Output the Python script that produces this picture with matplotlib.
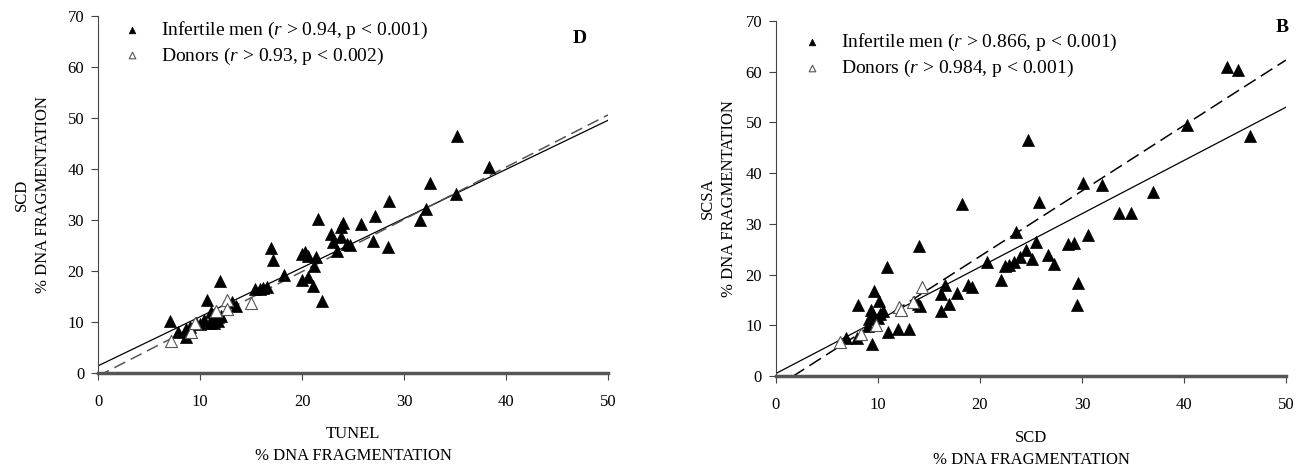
import matplotlib
matplotlib.use('Agg')
import matplotlib.pyplot as plt
import numpy as np

plt.rcParams['font.family'] = ['Liberation Serif', 'DejaVu Serif']
plt.rcParams['mathtext.fontset'] = 'custom'
plt.rcParams['mathtext.it'] = 'Liberation Serif:italic'
plt.rcParams['mathtext.rm'] = 'Liberation Serif'

# Panel D: TUNEL vs SCD
d_inf_x = [35.2, 38.3, 32.5, 35.1, 32.2, 31.6, 28.5, 28.4, 27.2, 27.0, 25.8, 21.6, 24.0, 23.8,
           22.8, 23.0, 23.8, 23.4, 24.4, 24.7, 21.4, 21.2, 20.3, 20.0, 20.6, 20.6, 20.0, 21.1,
           22.0, 17.0, 17.2, 18.2, 15.4, 15.9, 16.2, 16.6, 12.0, 10.7, 11.1, 13.1, 13.5, 11.4,
           11.8, 12.1, 11.0, 11.4, 11.8, 10.4, 10.0, 9.6, 9.0, 8.6, 8.6, 7.8, 7.1]
d_inf_y = [46.5, 40.3, 37.2, 35.1, 32.2, 29.9, 33.8, 24.8, 30.8, 25.9, 29.3, 30.2, 29.5, 28.6,
           27.3, 25.6, 26.6, 24.0, 25.3, 25.0, 22.7, 21.0, 23.7, 23.3, 23.0, 18.9, 18.2, 17.1,
           14.2, 24.5, 22.2, 19.3, 16.5, 16.5, 16.7, 16.8, 18.0, 14.4, 11.9, 13.9, 13.2, 11.6,
           11.0, 11.2, 9.9, 9.9, 10.1, 10.3, 9.6, 9.9, 9.0, 8.6, 7.0, 8.0, 10.1]
d_don_x = [7.2, 9.1, 9.5, 11.6, 12.6, 12.6, 15.0]
d_don_y = [6.3, 8.0, 9.9, 12.1, 14.3, 12.5, 13.7]
d_fit_inf = (0.963, 1.4)   # slope, intercept
d_fit_don = (1.024, -0.6)

# Panel B: SCD vs SCSA
b_inf_x = [44.2, 45.3, 46.5, 40.3, 37.0, 34.8, 33.6, 32.0, 30.1, 30.6, 29.2, 28.6, 29.6, 29.5,
           25.8, 24.7, 23.5, 25.5, 24.5, 23.9, 23.3, 22.8, 22.5, 25.1, 26.7, 27.3, 22.1, 20.7,
           18.2, 18.8, 19.2, 17.7, 16.6, 16.2, 17.0, 16.2, 14.0, 13.9, 14.1, 13.5, 13.0, 12.0,
           11.0, 10.9, 12.3, 9.6, 10.1, 10.5, 10.2, 9.3, 9.5, 9.1, 10.0, 9.0, 9.4, 8.0, 7.9, 6.9]
b_inf_y = [60.9, 60.3, 47.3, 49.4, 36.3, 32.2, 32.2, 37.6, 38.1, 27.8, 26.3, 26.1, 18.4, 14.0,
           34.3, 46.6, 28.4, 26.5, 24.8, 23.5, 22.5, 21.9, 21.7, 23.0, 23.8, 22.0, 19.0, 22.5,
           33.9, 17.9, 17.6, 16.3, 17.9, 16.2, 14.2, 12.9, 25.6, 14.2, 13.8, 14.6, 9.2, 9.2,
           8.7, 21.5, 13.0, 16.7, 14.8, 12.8, 12.3, 13.0, 12.0, 11.2, 11.4, 9.8, 6.4, 14.0, 7.4, 7.4]
b_don_x = [6.3, 8.3, 9.8, 12.1, 12.3, 13.4, 14.3]
b_don_y = [6.8, 8.3, 10.0, 13.7, 13.1, 14.6, 17.5]
b_fit_inf = (1.29, -2.2)
b_fit_don = (1.05, 0.5)

fig = plt.figure(figsize=(13.09, 4.70), dpi=100)
ax1 = fig.add_axes([0.0749, 0.2064, 0.3896, 0.7596])
ax2 = fig.add_axes([0.5928, 0.2000, 0.3896, 0.7553])


def panel(ax, inf_x, inf_y, don_x, don_y, fit_solid, fit_dash, dash_color, dash_style,
          lab_inf, lab_don, xlabel, ylabel, ylabpad, letter, letter_pos, leg_anchor):
    xs = np.array([0, 50])
    s, b = fit_solid
    ax.plot(xs, s * xs + b, color='black', lw=0.9, zorder=1)
    s, b = fit_dash
    ax.plot(xs, s * xs + b, color=dash_color, lw=1.1, ls=dash_style, zorder=1)
    ax.scatter(inf_x, inf_y, marker='^', s=75, facecolor='black', edgecolor='black',
               linewidth=0.5, zorder=3, label=lab_inf)
    ax.scatter(don_x, don_y, marker='^', s=75, facecolor='white', edgecolor='#555555',
               linewidth=0.8, zorder=4, label=lab_don)
    ax.set_xlim(0, 50)
    ax.set_ylim(0, 70)
    ax.set_xticks(range(0, 51, 10))
    ax.set_yticks(range(0, 71, 10))
    ax.tick_params(labelsize=12, width=0.8, color='#444444')
    ax.tick_params(axis='x', direction='out', length=5, pad=10)
    ax.tick_params(axis='y', direction='out', length=5, pad=5)
    for sp in ['top', 'right']:
        ax.spines[sp].set_visible(False)
    ax.spines['left'].set_color('#444444')
    ax.spines['bottom'].set_color('#555555')
    ax.spines['bottom'].set_linewidth(2.5)
    ax.set_xlabel(xlabel, fontsize=12, labelpad=12, linespacing=1.5)
    ax.set_ylabel(ylabel, fontsize=12, labelpad=ylabpad, linespacing=1.4)
    ax.legend(loc='upper left', frameon=False, fontsize=14, markerscale=0.55,
              handlelength=1.0, handletextpad=1.0, borderpad=0, borderaxespad=0,
              labelspacing=0.25, bbox_to_anchor=leg_anchor)
    ax.text(letter_pos[0], letter_pos[1], letter, fontsize=14, fontweight='bold',
            ha='center', va='center', clip_on=False)


panel(ax1, d_inf_x, d_inf_y, d_don_x, d_don_y, d_fit_inf, d_fit_don, '#555555', (0, (8, 4)),
      'Infertile men ($r$ > 0.94, p < 0.001)', 'Donors ($r$ > 0.93, p < 0.002)',
      'TUNEL\n% DNA FRAGMENTATION', 'SCD\n% DNA FRAGMENTATION', 12, 'D', (47.2, 65.5),
      (0.047, 0.99))
panel(ax2, b_inf_x, b_inf_y, b_don_x, b_don_y, b_fit_don, b_fit_inf, 'black', (0, (9, 4)),
      'Infertile men ($r$ > 0.866, p < 0.001)', 'Donors ($r$ > 0.984, p < 0.001)',
      'SCD\n% DNA FRAGMENTATION', 'SCSA\n% DNA FRAGMENTATION', 6, 'B', (49.6, 68.8),
      (0.051, 0.97))

plt.savefig('out.png', dpi=100)
plt.close()
